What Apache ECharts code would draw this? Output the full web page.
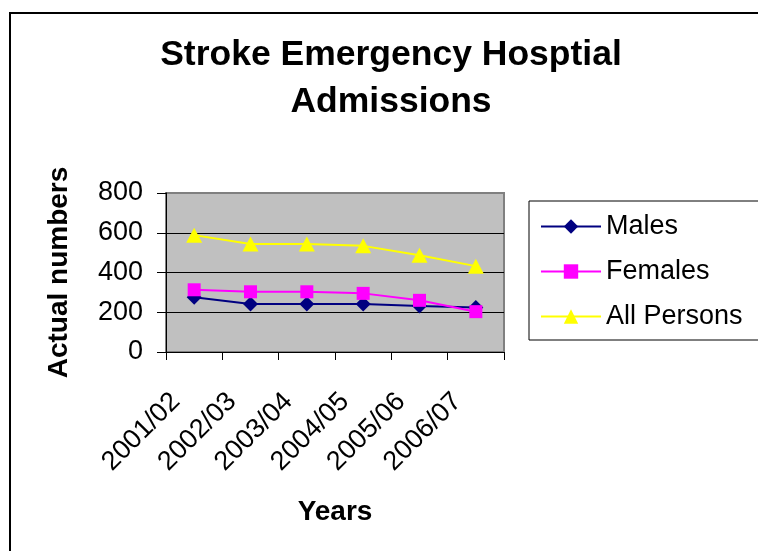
<!DOCTYPE html>
<html>
<head>
<meta charset="utf-8">
<script src="https://cdn.jsdelivr.net/npm/echarts@6/dist/echarts.min.js"></script>
<style>
  * { margin: 0; padding: 0; }
  body { background: #fff; }
</style>
</head>
<body>
<div id="main" style="width: 758px; height: 551px;"></div>
<script>
  // data
  var years = ['2001/02', '2002/03', '2003/04', '2004/05', '2005/06', '2006/07'];
  var males = [275, 241, 241, 241, 232, 224];
  var females = [313, 303, 303, 295, 260, 203];
  var allPersons = [588, 543, 543, 534, 487, 432];
  var yTicks = [0, 200, 400, 600, 800];

  var font = 'Liberation Sans, Arial, sans-serif';

  var chart = echarts.init(document.getElementById('main'));
  chart.setOption({
    backgroundColor: '#fff',
    title: {
      text: 'Stroke Emergency Hosptial\nAdmissions',
      left: 391,
      textAlign: 'center',
      top: 32,
      padding: 0,
      textStyle: {
        fontFamily: font,
        fontSize: 35.5,
        fontWeight: 'bold',
        color: '#000',
        lineHeight: 47
      }
    },
    // outer chart frame
    graphic: [{
      type: 'rect',
      shape: { x: 10, y: 13, width: 800, height: 600 },
      style: { fill: 'none', stroke: '#000', lineWidth: 2 },
      silent: true
    }],
    legend: {
      orient: 'vertical',
      left: 529,
      top: 201,
      padding: [12, 30, 10, 11],
      itemWidth: 60,
      itemHeight: 18,
      itemGap: 18,
      borderColor: '#000',
      borderWidth: 1,
      backgroundColor: '#fff',
      textStyle: { fontFamily: font, fontSize: 27, color: '#000' },
      data: ['Males', 'Females', 'All Persons']
    },
    grid: {
      left: 166,
      right: 254,
      top: 193,
      bottom: 199,
      show: true,
      backgroundColor: '#C0C0C0',
      borderColor: '#808080',
      borderWidth: 2,
      outerBoundsMode: 'none'
    },
    xAxis: {
      type: 'category',
      data: years,
      boundaryGap: true,
      name: 'Years',
      nameLocation: 'middle',
      nameGap: 146,
      nameTextStyle: { fontFamily: font, fontSize: 28, fontWeight: 'bold', color: '#000', verticalAlign: 'top' },
      axisLine: { lineStyle: { color: '#000', width: 1 } },
      axisTick: { show: true, length: 8, lineStyle: { color: '#000' } },
      axisLabel: {
        interval: 0,
        rotate: 45,
        margin: 27,
        padding: [0, 26, 0, 0],
        fontFamily: font,
        fontSize: 27,
        color: '#000'
      },
      splitLine: { show: false }
    },
    yAxis: {
      type: 'value',
      min: yTicks[0],
      max: yTicks[yTicks.length - 1],
      interval: 200,
      name: 'Actual numbers',
      nameLocation: 'middle',
      nameRotate: 90,
      nameGap: 93,
      nameTextStyle: { fontFamily: font, fontSize: 28, fontWeight: 'bold', color: '#000' },
      axisLine: { show: true, lineStyle: { color: '#000', width: 1 } },
      axisTick: { show: true, length: 9, lineStyle: { color: '#000' } },
      axisLabel: { margin: 23, fontFamily: font, fontSize: 27, color: '#000' },
      splitLine: { show: true, showMinLine: false, showMaxLine: false, lineStyle: { color: '#000', width: 1 } }
    },
    series: [
      {
        name: 'Males',
        type: 'line',
        data: males,
        symbol: 'diamond',
        symbolSize: 15,
        color: '#000080',
        lineStyle: { width: 2, color: '#000080' },
        itemStyle: { color: '#000080' }
      },
      {
        name: 'Females',
        type: 'line',
        data: females,
        symbol: 'rect',
        symbolSize: 13,
        color: '#FF00FF',
        lineStyle: { width: 2, color: '#FF00FF' },
        itemStyle: { color: '#FF00FF' }
      },
      {
        name: 'All Persons',
        type: 'line',
        data: allPersons,
        symbol: 'triangle',
        symbolSize: [16, 15],
        color: '#FFFF00',
        lineStyle: { width: 2, color: '#FFFF00' },
        itemStyle: { color: '#FFFF00' }
      }
    ],
    animation: false
  });
</script>
</body>
</html>
